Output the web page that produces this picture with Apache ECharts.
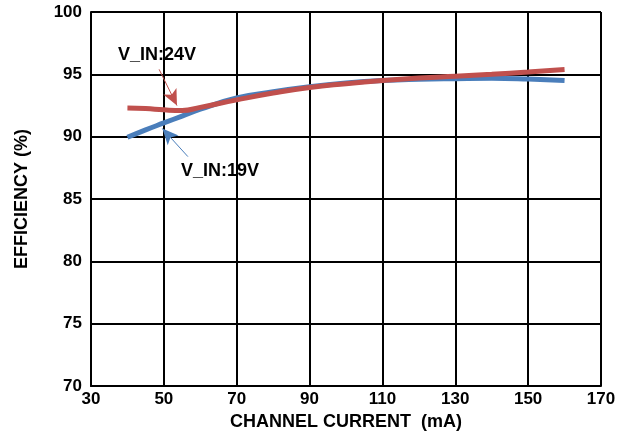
<!DOCTYPE html>
<html>
<head>
<meta charset="utf-8">
<script src="https://cdn.jsdelivr.net/npm/echarts@6/dist/echarts.min.js"></script>
<style>html,body{margin:0;padding:0;background:#fff;}#chart{width:629px;height:440px;}</style>
</head>
<body>
<div id="chart"></div>
<script>
const currents = [40, 45, 50, 55, 60, 70, 80, 90, 100, 110, 120, 130, 140, 150, 160];
const eff19V = [89.95, 90.55, 91.1, 91.65, 92.2, 93.1, 93.6, 94.0, 94.3, 94.5, 94.6, 94.65, 94.68, 94.62, 94.5];
const eff24V = [92.3, 92.25, 92.15, 92.1, 92.35, 92.95, 93.5, 93.95, 94.25, 94.5, 94.7, 94.85, 95.0, 95.18, 95.38];
const xTicks = [30, 50, 70, 90, 110, 130, 150, 170];
const yTicks = [70, 75, 80, 85, 90, 95, 100];
const arrow24 = [[48.7, 95.4], [53.6, 92.5]];
const arrow19 = [[56.6, 88.4], [49.6, 90.65]];

const FONT = '"Liberation Sans", Arial, sans-serif';
const chart = echarts.init(document.getElementById('chart'), null, {renderer: 'canvas'});
const pair = (xs, ys) => xs.map((x, i) => [x, ys[i]]);

chart.setOption({
  animation: false,
  backgroundColor: '#ffffff',
  grid: {left: 91, right: 28, top: 12, bottom: 54, containLabel: false},
  xAxis: {
    type: 'value', min: xTicks[0], max: xTicks[xTicks.length - 1], interval: xTicks[1] - xTicks[0],
    name: 'CHANNEL CURRENT  (mA)', nameLocation: 'middle', nameGap: 26,
    nameTextStyle: {fontFamily: FONT, fontWeight: 'bold', fontSize: 18, color: '#000'},
    axisLine: {lineStyle: {color: '#000', width: 2}},
    axisTick: {show: false},
    axisLabel: {fontFamily: FONT, fontWeight: 'bold', fontSize: 17, color: '#000', margin: 5},
    splitLine: {show: true, lineStyle: {color: '#000', width: 2}}
  },
  yAxis: {
    type: 'value', min: yTicks[0], max: yTicks[yTicks.length - 1], interval: yTicks[1] - yTicks[0],
    name: 'EFFICIENCY (%)', nameLocation: 'middle', nameGap: 60,
    nameTextStyle: {fontFamily: FONT, fontWeight: 'bold', fontSize: 18, color: '#000'},
    axisLine: {show: true, lineStyle: {color: '#000', width: 2}},
    axisTick: {show: false},
    axisLabel: {fontFamily: FONT, fontWeight: 'bold', fontSize: 17, color: '#000', margin: 9},
    splitLine: {show: true, lineStyle: {color: '#000', width: 2}}
  },
  series: [
    {
      name: 'V_IN:19V', type: 'line', smooth: true, showSymbol: false,
      data: pair(currents, eff19V),
      lineStyle: {color: '#4A7EBB', width: 5, cap: 'butt'},
      markLine: {
        silent: true, symbol: ['none', 'arrow'], symbolSize: [11, 16],
        lineStyle: {color: '#4A7EBB', width: 1, type: 'solid'}, label: {show: false},
        data: [[{coord: arrow19[0]}, {coord: arrow19[1]}]]
      }
    },
    {
      name: 'V_IN:24V', type: 'line', smooth: true, showSymbol: false,
      data: pair(currents, eff24V),
      lineStyle: {color: '#C0504D', width: 5, cap: 'butt'},
      markLine: {
        silent: true, symbol: ['none', 'arrow'], symbolSize: [11, 16],
        lineStyle: {color: '#C0504D', width: 1, type: 'solid'}, label: {show: false},
        data: [[{coord: arrow24[0]}, {coord: arrow24[1]}]]
      }
    }
  ],
  graphic: [
    {type: 'text', left: 118, top: 46, style: {text: 'V_IN:24V', fontFamily: FONT, fontWeight: 'bold', fontSize: 18, fill: '#000'}},
    {type: 'text', left: 181, top: 162, style: {text: 'V_IN:19V', fontFamily: FONT, fontWeight: 'bold', fontSize: 18, fill: '#000'}}
  ]
});
</script>
</body>
</html>
